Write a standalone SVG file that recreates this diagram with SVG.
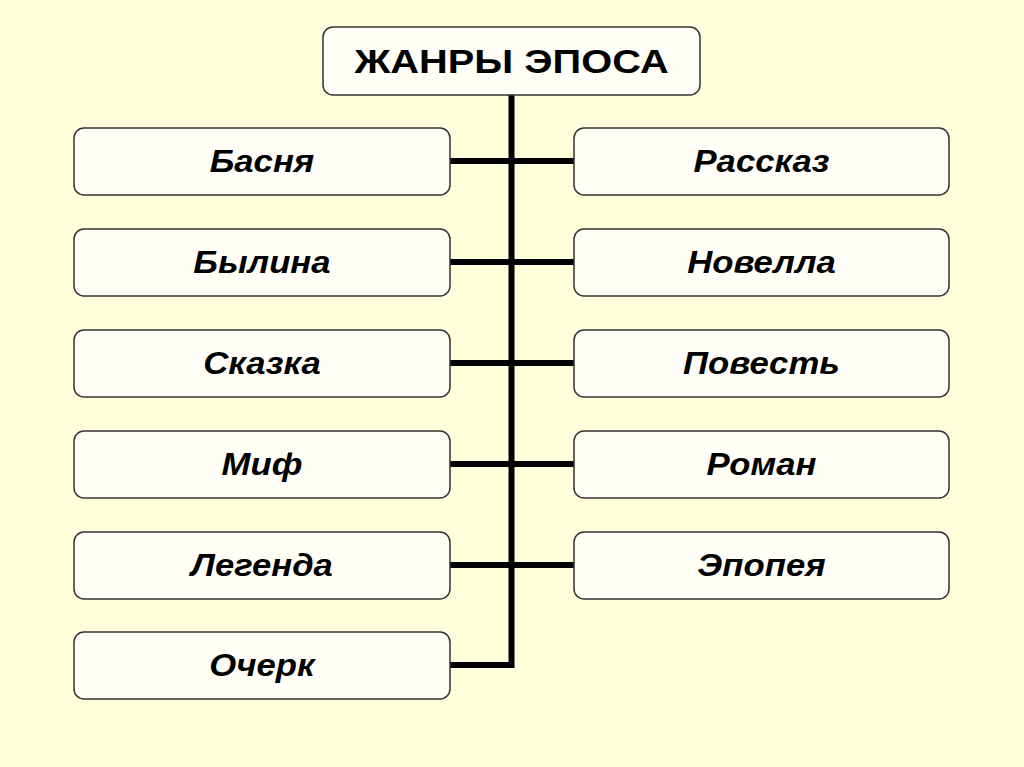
<svg xmlns="http://www.w3.org/2000/svg" width="1024" height="767" viewBox="0 0 1024 767">
<style>
.box{fill:#fffff7;stroke:#333;stroke-width:1.5}
.lbl{font-family:"Liberation Sans",Arial,sans-serif;font-weight:bold;font-style:italic;font-size:31px;fill:#000;text-anchor:middle}
.ttl{font-family:"Liberation Sans",Arial,sans-serif;font-weight:bold;font-size:34px;fill:#000;text-anchor:middle}
.con{stroke:#000;stroke-width:6;fill:none}
</style>
<rect width="1024" height="767" fill="#ffffdc"/>
<g id="connectors">
<path class="con" d="M511.5 95 V665 H450"/>
<path class="con" d="M450 161 H574 M450 262 H574 M450 363 H574 M450 464 H574 M450 565 H574"/>
</g>
<g id="title"><rect class="box" x="323" y="27" width="377" height="68" rx="10"/><text class="ttl" transform="translate(511.5 73) scale(1.17 1)">ЖАНРЫ ЭПОСА</text></g>
<g id="basnya"><rect class="box" x="74" y="128" width="376" height="67" rx="10"/><text class="lbl" transform="translate(262 172) scale(1.12 1)">Басня</text></g>
<g id="bylina"><rect class="box" x="74" y="229" width="376" height="67" rx="10"/><text class="lbl" transform="translate(262 273) scale(1.12 1)">Былина</text></g>
<g id="skazka"><rect class="box" x="74" y="330" width="376" height="67" rx="10"/><text class="lbl" transform="translate(262 374) scale(1.12 1)">Сказка</text></g>
<g id="mif"><rect class="box" x="74" y="431" width="376" height="67" rx="10"/><text class="lbl" transform="translate(262 475) scale(1.12 1)">Миф</text></g>
<g id="legenda"><rect class="box" x="74" y="532" width="376" height="67" rx="10"/><text class="lbl" transform="translate(262 576) scale(1.12 1)">Легенда</text></g>
<g id="ocherk"><rect class="box" x="74" y="632" width="376" height="67" rx="10"/><text class="lbl" transform="translate(262 676) scale(1.12 1)">Очерк</text></g>
<g id="rasskaz"><rect class="box" x="574" y="128" width="375" height="67" rx="10"/><text class="lbl" transform="translate(761.5 172) scale(1.12 1)">Рассказ</text></g>
<g id="novella"><rect class="box" x="574" y="229" width="375" height="67" rx="10"/><text class="lbl" transform="translate(761.5 273) scale(1.12 1)">Новелла</text></g>
<g id="povest"><rect class="box" x="574" y="330" width="375" height="67" rx="10"/><text class="lbl" transform="translate(761.5 374) scale(1.12 1)">Повесть</text></g>
<g id="roman"><rect class="box" x="574" y="431" width="375" height="67" rx="10"/><text class="lbl" transform="translate(761.5 475) scale(1.12 1)">Роман</text></g>
<g id="epopeya"><rect class="box" x="574" y="532" width="375" height="67" rx="10"/><text class="lbl" transform="translate(761.5 576) scale(1.12 1)">Эпопея</text></g>
</svg>
